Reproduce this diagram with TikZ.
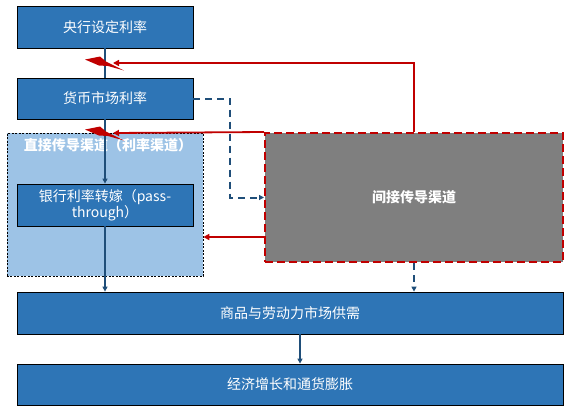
\documentclass[tikz,border=0pt]{standalone}
\usepackage{fontspec}
\setmainfont{Noto Sans CJK SC}
\usetikzlibrary{arrows.meta,calc}
\definecolor{boxblue}{HTML}{2E75B6}
\definecolor{lineblue}{HTML}{1F4E79}
\definecolor{regionblue}{HTML}{9DC3E6}
\definecolor{darkred}{HTML}{C00000}
\definecolor{grayfill}{HTML}{7F7F7F}
\tikzset{
  bluebox/.style={draw=black, line width=0.8bp, fill=boxblue, text=white, inner sep=0pt,
    font=\fontsize{14bp}{17bp}\selectfont, align=center},
  blueline/.style={draw=lineblue, line width=1.5bp},
  bluearrow/.style={blueline, -{Triangle[length=5bp,width=5bp]}},
  bluedash/.style={bluearrow, line width=2bp, dash pattern=on 7bp off 5bp},
  redline/.style={draw=darkred, line width=1.8bp},
  redarrow/.style={redline, -{Triangle[length=6bp,width=6bp]}},
  bolt/.style={fill=darkred, draw=none},
}
\begin{document}
\begin{tikzpicture}[x=1bp,y=-1bp]
\useasboundingbox (0,0) rectangle (577,415);
% direct channel region
\node[draw=black, line width=0.6bp, dash pattern=on 2bp off 1.5bp, fill=regionblue,
  minimum width=196bp, minimum height=143bp, inner sep=0pt] (region) at (105,204.5) {};
\node[text=white, font=\fontsize{14bp}{17bp}\selectfont\bfseries, inner sep=0pt] (title) at (108,145) {直接传导渠道（利率渠道）};
% boxes
\node[bluebox, minimum width=176bp, minimum height=42bp] (b1) at (105,27) {央行设定利率};
\node[bluebox, minimum width=176bp, minimum height=41bp] (b2) at (105,98.5) {货币市场利率};
\node[bluebox, minimum width=176bp, minimum height=42bp] (b3) at (105,205) {银行利率转嫁（pass-\\[-1bp]through）};
\node[draw=darkred, line width=2bp, dash pattern=on 8bp off 4bp, fill=grayfill, text=white,
  minimum width=298bp, minimum height=129bp, inner sep=0pt,
  font=\fontsize{14bp}{17bp}\selectfont\bfseries] (gray) at (414,197.5) {间接传导渠道};
\node[bluebox, minimum width=546bp, minimum height=42bp] (b4) at (290,313) {商品与劳动力市场供需};
\node[bluebox, minimum width=546bp, minimum height=41bp] (b5) at (290,384.5) {经济增长和通货膨胀};
% helper coordinates
\coordinate (z1) at ($(b1.south)!0.5!(b2.north)$);
\coordinate (z2) at (105,133);
\coordinate (g3) at ($(gray.west)+(0,39.5)$);
\coordinate (k1) at ($(z1)+(8,0)$);
\coordinate (k2) at ($(z2)+(8,0)$);
% blue connectors
\draw[blueline] (b1.south) -- (b2.north);
\draw[bluearrow] (b2.south) -- (b3.north);
\draw[bluearrow] (b3.south) -- (b3.south |- b4.north);
\draw[bluearrow] ([xshift=10bp]b4.south) -- ([xshift=10bp]b4.south |- b5.north);
\draw[bluedash] (b2.east) -- ++(37,0) |- (gray.west);
\draw[bluedash] (gray.south) -- (gray.south |- b4.north);
% lightning bolts
\foreach \z in {z1,z2}{
  \fill[bolt] ($(\z)+(-20,-3.5)$) -- ($(\z)+(-5,-6.5)$) -- ($(\z)+(1,-1.5)$) -- ($(\z)+(19,7.5)$)
     -- ($(\z)+(3,3)$) -- ($(\z)+(-6,2.5)$) -- cycle;
}
% red connectors
\draw[redarrow] (gray.north) |- (k1);
\draw[redarrow] (gray.north west) -- (k2);
\draw[redarrow] (g3) -- (g3 -| region.east);
\end{tikzpicture}
\end{document}
